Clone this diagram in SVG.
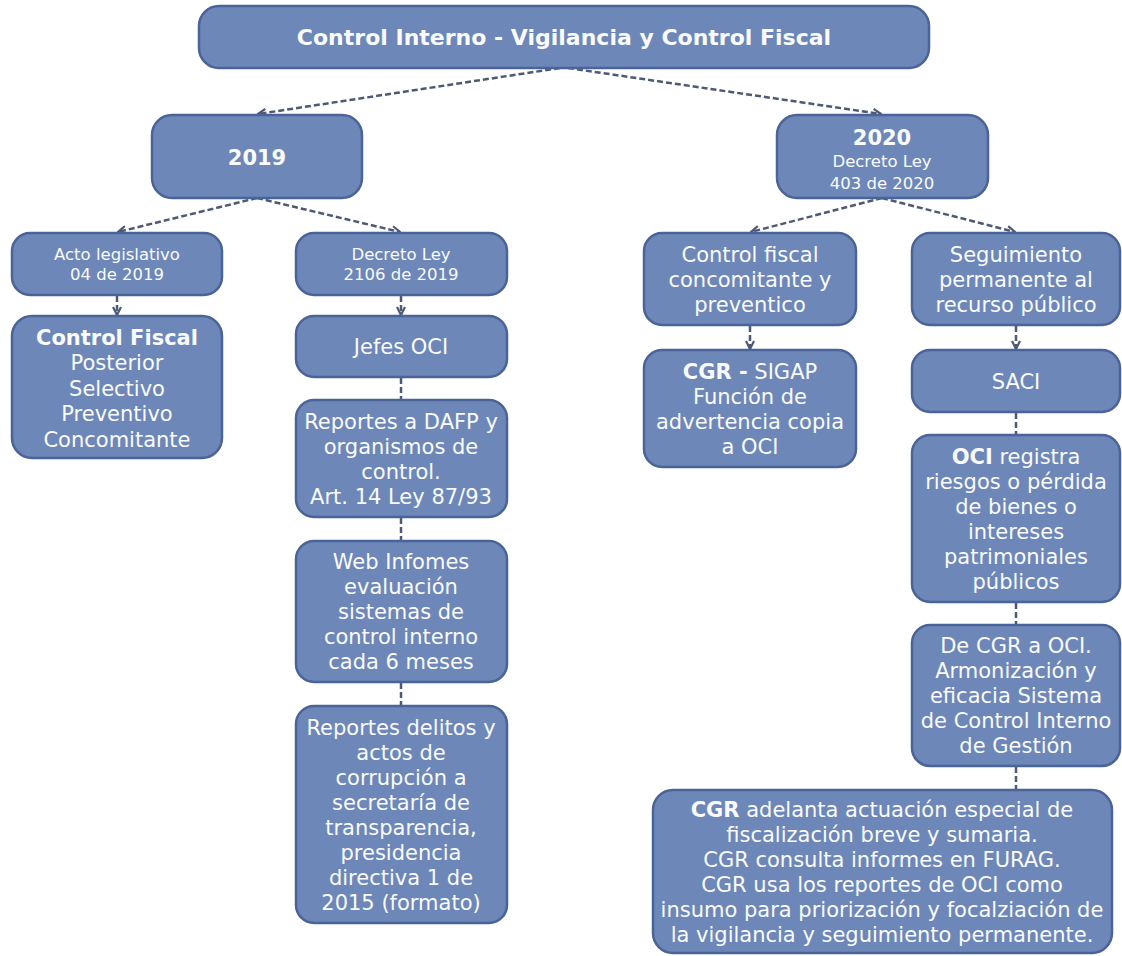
<svg xmlns="http://www.w3.org/2000/svg" width="1122" height="956" viewBox="0 0 1122 956">
<defs>
<marker id="ah" viewBox="0 0 10 10" refX="9" refY="5" markerWidth="4" markerHeight="4" orient="auto"><path d="M1,1 L9,5 L1,9" fill="none" stroke="#4d5a75" stroke-width="2.2"/></marker>
<style>
.box{fill:#6d87b9;stroke:#4a6398;stroke-width:2.5}
.t{font-family:"DejaVu Sans",Verdana,sans-serif;fill:#fafbfd;text-anchor:middle;font-size:21px}
.s{font-size:16.5px}
.h{font-size:22px}
.b{font-weight:bold}
.c{fill:none;stroke:#4d5a75;stroke-width:2.5;stroke-dasharray:6 3}
.ca{marker-end:url(#ah)}
</style>
</defs>
<rect width="1122" height="956" fill="#ffffff"/>
<g id="connectors">
<path class="c ca" d="M560,68 L258,114"/>
<path class="c ca" d="M568,68 L881,114"/>
<path class="c ca" d="M257,198 L118,232"/>
<path class="c ca" d="M257,198 L400,232"/>
<path class="c ca" d="M882,198 L751,232"/>
<path class="c ca" d="M882,198 L1015,232"/>
<path class="c ca" d="M117,296 L117,315"/>
<path class="c ca" d="M401,296 L401,315"/>
<path class="c ca" d="M750,326 L750,349"/>
<path class="c ca" d="M1016,326 L1016,349"/>
<path class="c" d="M401,378 L401,400"/>
<path class="c" d="M401,518 L401,541"/>
<path class="c" d="M401,683 L401,706"/>
<path class="c" d="M1016,413 L1016,435"/>
<path class="c" d="M1016,603 L1016,625"/>
<path class="c" d="M1016,767 L1016,790"/>
</g>
<g id="n-top"><rect class="box" x="199" y="6" width="730" height="62" rx="20"/>
<text class="t h b" x="564" y="45">Control Interno - Vigilancia y Control Fiscal</text></g>
<g id="n-2019"><rect class="box" x="152" y="115" width="210" height="83" rx="20"/>
<text class="t b" x="257" y="164.5">2019</text></g>
<g id="n-2020"><rect class="box" x="777" y="115" width="211" height="83" rx="20"/>
<text class="t b" x="882" y="144.5">2020</text>
<text class="t s" x="882" y="167">Decreto Ley</text>
<text class="t s" x="882" y="189">403 de 2020</text></g>
<g id="n-acto"><rect class="box" x="12" y="233" width="210" height="62" rx="18"/>
<text class="t s" x="117" y="260">Acto legislativo</text>
<text class="t s" x="117" y="280">04 de 2019</text></g>
<g id="n-decreto2106"><rect class="box" x="296" y="233" width="211" height="62" rx="18"/>
<text class="t s" x="401" y="260">Decreto Ley</text>
<text class="t s" x="401" y="280">2106 de 2019</text></g>
<g id="n-cfconc"><rect class="box" x="644" y="233" width="212" height="92" rx="18"/>
<text class="t" x="750" y="261.5">Control fiscal</text>
<text class="t" x="750" y="286.5">concomitante y</text>
<text class="t" x="750" y="311.5">preventico</text></g>
<g id="n-seguimiento"><rect class="box" x="912" y="233" width="208" height="92" rx="18"/>
<text class="t" x="1016" y="261.5">Seguimiento</text>
<text class="t" x="1016" y="286.5">permanente al</text>
<text class="t" x="1016" y="311.5">recurso público</text></g>
<g id="n-controlfiscal"><rect class="box" x="12" y="316" width="210" height="142" rx="20"/>
<text class="t b" x="117" y="344.5">Control Fiscal</text>
<text class="t" x="117" y="370">Posterior</text>
<text class="t" x="117" y="395.5">Selectivo</text>
<text class="t" x="117" y="421">Preventivo</text>
<text class="t" x="117" y="446.5">Concomitante</text></g>
<g id="n-jefes"><rect class="box" x="296" y="316" width="211" height="61" rx="18"/>
<text class="t" x="401" y="354">Jefes OCI</text></g>
<g id="n-dafp"><rect class="box" x="296" y="400" width="211" height="117" rx="18"/>
<text class="t" x="401" y="428.5">Reportes a DAFP y</text>
<text class="t" x="401" y="453.5">organismos de</text>
<text class="t" x="401" y="478.5">control.</text>
<text class="t" x="401" y="503.5">Art. 14 Ley 87/93</text></g>
<g id="n-web"><rect class="box" x="296" y="541" width="211" height="141" rx="18"/>
<text class="t" x="401" y="569">Web Infomes</text>
<text class="t" x="401" y="594">evaluación</text>
<text class="t" x="401" y="619">sistemas de</text>
<text class="t" x="401" y="644">control interno</text>
<text class="t" x="401" y="669">cada 6 meses</text></g>
<g id="n-delitos"><rect class="box" x="296" y="706" width="211" height="217" rx="18"/>
<text class="t" x="401" y="734.5">Reportes delitos y</text>
<text class="t" x="401" y="759.5">actos de</text>
<text class="t" x="401" y="784.5">corrupción a</text>
<text class="t" x="401" y="809.5">secretaría de</text>
<text class="t" x="401" y="834.5">transparencia,</text>
<text class="t" x="401" y="859.5">presidencia</text>
<text class="t" x="401" y="884.5">directiva 1 de</text>
<text class="t" x="401" y="909.5">2015 (formato)</text></g>
<g id="n-sigap"><rect class="box" x="644" y="350" width="212" height="117" rx="18"/>
<text class="t" x="750" y="378.5"><tspan class="b">CGR -</tspan> SIGAP</text>
<text class="t" x="750" y="403.5">Función de</text>
<text class="t" x="750" y="428.5">advertencia copia</text>
<text class="t" x="750" y="453.5">a OCI</text></g>
<g id="n-saci"><rect class="box" x="912" y="350" width="208" height="62" rx="18"/>
<text class="t" x="1016" y="388.5">SACI</text></g>
<g id="n-ociregistra"><rect class="box" x="912" y="435" width="208" height="167" rx="18"/>
<text class="t" x="1016" y="463.5"><tspan class="b">OCI</tspan> registra</text>
<text class="t" x="1016" y="488.5">riesgos o pérdida</text>
<text class="t" x="1016" y="513.5">de bienes o</text>
<text class="t" x="1016" y="538.5">intereses</text>
<text class="t" x="1016" y="563.5">patrimoniales</text>
<text class="t" x="1016" y="588.5">públicos</text></g>
<g id="n-decgr"><rect class="box" x="912" y="625" width="208" height="141" rx="18"/>
<text class="t" x="1016" y="653">De CGR a OCI.</text>
<text class="t" x="1016" y="678">Armonización y</text>
<text class="t" x="1016" y="703">eficacia Sistema</text>
<text class="t" x="1016" y="728">de Control Interno</text>
<text class="t" x="1016" y="753">de Gestión</text></g>
<g id="n-cgradelanta"><rect class="box" x="653" y="790" width="459" height="163" rx="20"/>
<text class="t" x="882" y="816.5"><tspan class="b">CGR</tspan> adelanta actuación especial de</text>
<text class="t" x="882" y="841.5">fiscalización breve y sumaria.</text>
<text class="t" x="882" y="866.5">CGR consulta informes en FURAG.</text>
<text class="t" x="882" y="891.5">CGR usa los reportes de OCI como</text>
<text class="t" x="882" y="916.5">insumo para priorización y focalziación de</text>
<text class="t" x="882" y="941.5">la vigilancia y seguimiento permanente.</text></g>
</svg>
